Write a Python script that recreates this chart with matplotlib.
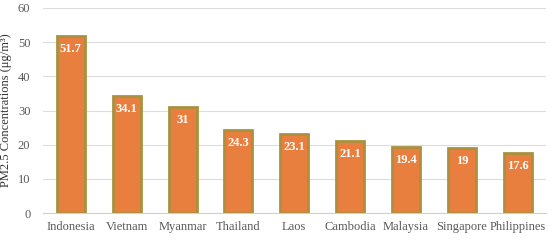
import matplotlib
matplotlib.use("Agg")
import matplotlib.pyplot as plt
import numpy as np

countries = ["Indonesia", "Vietnam", "Myanmar", "Thailand", "Laos",
             "Cambodia", "Malaysia", "Singapore", "Philippines"]
pm25 = [51.7, 34.1, 31, 24.3, 23.1, 21.1, 19.4, 19, 17.6]
labels = ["51.7", "34.1", "31", "24.3", "23.1", "21.1", "19.4", "19", "17.6"]

plt.rcParams["font.family"] = ["Liberation Serif", "DejaVu Serif"]

fig = plt.figure(figsize=(5.5, 2.4), dpi=100)
ax = fig.add_axes([0.078, 0.112, 0.914, 0.855])

x = np.arange(len(countries))
bars = ax.bar(x, pm25, width=0.5, color="#e97f3f", edgecolor="#a9923f",
              linewidth=2, zorder=3)

for xi, v, lab in zip(x, pm25, labels):
    ax.text(xi, v - 2.0, lab, ha="center", va="top", color="white",
            fontsize=9, fontweight="bold", zorder=4)

ax.set_xlim(-0.5, len(countries) - 0.5)
ax.set_ylim(0, 60)
ax.set_yticks(range(0, 61, 10))
ax.set_xticks(x)
ax.set_xticklabels(countries)
ax.grid(axis="y", color="#dcdcdc", linewidth=0.8, zorder=0)
for s in ["top", "right", "left"]:
    ax.spines[s].set_visible(False)
ax.spines["bottom"].set_color("#d0d0d0")
ax.tick_params(axis="both", length=0, colors="#595959", labelsize=9)
ax.tick_params(axis="x", pad=6)
ax.tick_params(axis="y", pad=9)
ax.set_ylabel("PM2.5 Concentrations (μg/m³)", fontsize=9, color="#333333",
              labelpad=4)

fig.savefig("out.png", dpi=100)
